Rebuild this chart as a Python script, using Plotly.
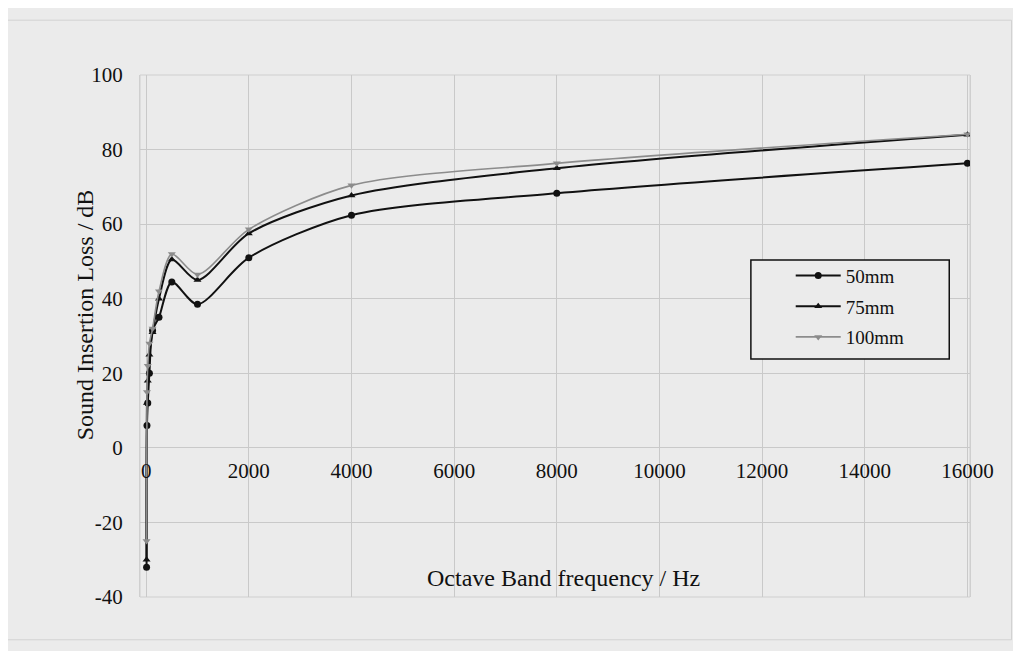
import plotly.graph_objects as go

# Octave band centre frequencies (Hz)
freq = [8, 16, 31.5, 63, 125, 250, 500, 1000, 2000, 4000, 8000, 16000]

# Sound insertion loss (dB)
il_50mm = [-32, 6, 12, 20, 31.5, 35, 44.5, 38.5, 51, 62.4, 68.3, 76.3]
il_75mm = [-30, 12, 18, 25, 31, 40, 50.5, 45, 57.5, 67.7, 75, 84]
il_100mm = [-25, 15, 22, 28, 32, 42, 52, 46.5, 58.6, 70.4, 76.3, 84.1]

series_names = ["50mm", "75mm", "100mm"]

x_ticks = [0, 2000, 4000, 6000, 8000, 10000, 12000, 14000, 16000]
y_ticks = [-40, -20, 0, 20, 40, 60, 80, 100]

x_range = [-120, 16050]
y_range = [-40, 100]

FONT = "Liberation Serif"
BG = "#ebebeb"
GRID = "#c9c9c9"
INK = "#111111"

fig = go.Figure()
fig.add_trace(go.Scatter(
    x=freq, y=il_50mm, name=series_names[0], mode="lines+markers", legendgroup="a",
    line=dict(color=INK, width=2, shape="spline", smoothing=0.8),
    marker=dict(symbol="circle", size=7, color=INK),
))
fig.add_trace(go.Scatter(
    x=freq, y=il_75mm, name=series_names[1], mode="lines+markers", legendgroup="b",
    line=dict(color=INK, width=2, shape="spline", smoothing=0.8),
    marker=dict(symbol="triangle-up", size=7, color=INK),
))
fig.add_trace(go.Scatter(
    x=freq, y=il_100mm, name=series_names[2], mode="lines+markers", legendgroup="c",
    line=dict(color="#8c8c8c", width=1.6, shape="spline", smoothing=0.8),
    marker=dict(symbol="triangle-down", size=7, color="#8c8c8c"),
))

zero_pos = (0 - y_range[0]) / (y_range[1] - y_range[0])

fig.update_layout(
    width=1021, height=651,
    margin=dict(l=132, r=59, t=67, b=62),
    paper_bgcolor=BG, plot_bgcolor=BG,
    font=dict(family=FONT, size=20, color=INK),
    showlegend=True,
    legend=dict(
        x=0.784, y=0.652, xanchor="left", yanchor="top",
        bgcolor="rgba(0,0,0,0)", borderwidth=0,
        font=dict(family=FONT, size=19, color=INK),
        itemwidth=45, tracegroupgap=3,
    ),
    xaxis=dict(
        range=x_range, tickvals=x_ticks, ticktext=[str(v) for v in x_ticks],
        showgrid=True, gridcolor=GRID, gridwidth=1,
        zeroline=False, showline=False, ticks="",
        anchor="free", position=zero_pos, ticklabelstandoff=8,
        tickfont=dict(family=FONT, size=21, color=INK),
    ),
    yaxis=dict(
        range=y_range, tickvals=y_ticks, ticktext=[str(v) for v in y_ticks],
        showgrid=True, gridcolor=GRID, gridwidth=1,
        zeroline=False, showline=True, linecolor="#cfcfcf", mirror=True,
        ticks="", ticklabelstandoff=12,
        tickfont=dict(family=FONT, size=21, color=INK),
    ),
    annotations=[
        dict(text="Octave Band frequency / Hz", xref="paper", yref="paper",
             x=0.51, y=0.036, showarrow=False, xanchor="center", yanchor="middle",
             font=dict(family=FONT, size=24, color=INK)),
        dict(text="Sound Insertion Loss / dB", xref="paper", yref="paper",
             x=-0.066, y=0.54, showarrow=False, xanchor="center", yanchor="middle",
             textangle=-90, font=dict(family=FONT, size=24, color=INK)),
    ],
    shapes=[
        dict(type="rect", xref="paper", yref="paper", x0=0, x1=1, y0=0, y1=1,
             line=dict(color="#cfcfcf", width=1), layer="below"),
        dict(type="rect", xref="paper", yref="paper", x0=-0.163, x1=1.05, y0=-0.082, y1=1.105,
             line=dict(color="#d2d2d2", width=1), layer="below"),
        dict(type="rect", xref="paper", yref="paper", x0=0.736, x1=0.975, y0=0.456, y1=0.6456,
             line=dict(color=INK, width=1.5), fillcolor=BG, layer="above"),
    ],
)

fig.write_html("out.html")
